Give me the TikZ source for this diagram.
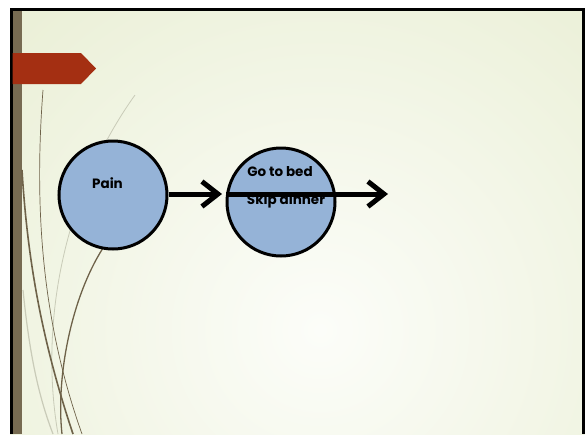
\documentclass[tikz,border=0pt]{standalone}
\usepackage{fontspec}
\newfontfamily\slidefont{Poppins}
\usetikzlibrary{arrows.meta}
\definecolor{slidebg}{HTML}{E2E9C6}
\definecolor{slidecenter}{HTML}{FCFDF9}
\definecolor{barbrown}{HTML}{776B52}
\definecolor{flagred}{HTML}{A42F12}
\definecolor{bubble}{HTML}{95B3D7}
\definecolor{swirl}{HTML}{6E6249}
\definecolor{swirllight}{HTML}{C9CBB8}

\begin{document}
\begin{tikzpicture}[x=1pt, y=-1pt, thick,
		bubble/.style={draw, circle, fill=bubble, line width=3pt, minimum size=108pt, inner sep=0pt},
		label/.style={font=\slidefont\bfseries\fontsize{13.5}{15}\selectfont, inner sep=0pt},
		flow/.style={line width=5pt, -{Straight Barb[length=16pt, width=25pt, line width=5pt]}}]
		\useasboundingbox (0,0) rectangle (585,434);
		% slide background
		\fill[white] (0,0) rectangle (585,434);
		\begin{scope}
			\clip (10,8) rectangle (585,434);
			\shade[inner color=slidecenter, outer color=slidebg] (-340,-320) rectangle (980,980);
		\end{scope}
		\fill[black] (10,8) rectangle (585,10.5);
		\fill[black] (582,8) rectangle (585,434);
		\fill[black] (10,8) rectangle (12.5,434);
		\fill[barbrown] (12.5,10.5) rectangle (22,434);
		\fill[flagred] (12.5,53) -- (81,53) -- (96,68.5) -- (81,84) -- (12.5,84) -- cycle;
		% swirls
		\draw[swirllight, line width=0.8pt] (135,95) .. controls (60,200) and (40,330) .. (58,434);
		\draw[swirllight, line width=1.2pt] (23,290) .. controls (30,360) and (40,400) .. (53,434);
		\draw[swirl, line width=0.7pt] (43,90) .. controls (33,220) and (45,330) .. (82,434);
		\draw[swirl, line width=1.6pt] (22,170) .. controls (28,270) and (45,350) .. (73,434);
		\draw[swirl, line width=1.3pt] (103,248) .. controls (70,300) and (56,380) .. (62,434);
		% bubbles
		\node[bubble] (pain) at (113,195) {};
		\node[bubble] (bed) at (281,202) {};
		\node[label] (paintext) at (107.5,183) {Pain};
		\node[label] (bedtext) at (280,172) {Go to bed};
		\node[label] (dinnertext) at (286,201) {Skip dinner};
		\coordinate (tip1) at (222,194);
		\coordinate (start2) at (226,194);
		\coordinate (tip2) at (388,194);
		\draw[flow] (pain.east |- tip1) -- (tip1);
		\draw[flow] (start2) -- (tip2);
	\end{tikzpicture}
\end{document}
